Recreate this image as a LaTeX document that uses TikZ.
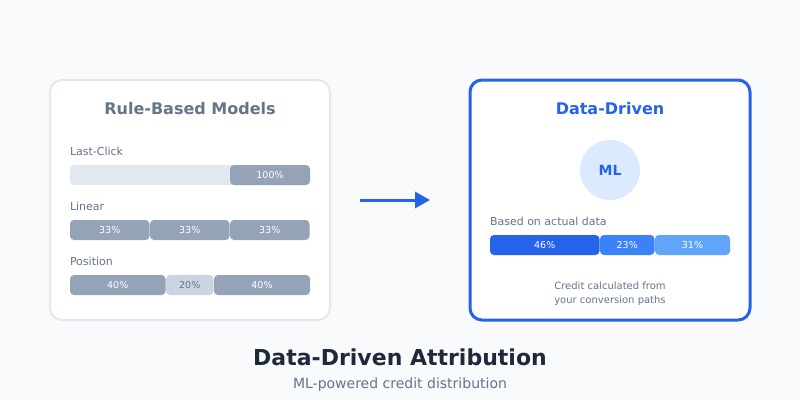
\documentclass[tikz,border=0pt]{standalone}
\usepackage{fontspec}
\setmainfont{DejaVu Sans}
\usetikzlibrary{arrows.meta,positioning}
\definecolor{pagebg}{HTML}{F8FAFC}
\definecolor{cardline}{HTML}{E2E8F0}
\definecolor{slate}{HTML}{64748B}
\definecolor{segdark}{HTML}{94A3B8}
\definecolor{seglight}{HTML}{CBD5E1}
\definecolor{track}{HTML}{E2E8F0}
\definecolor{blueA}{HTML}{2563EB}
\definecolor{blueB}{HTML}{3B82F6}
\definecolor{blueC}{HTML}{60A5FA}
\definecolor{bluebg}{HTML}{DBEAFE}
\definecolor{ink}{HTML}{1E293B}

\begin{document}
\begin{tikzpicture}[x=1pt,y=-1pt,
  every node/.style={inner sep=0pt,outer sep=0pt},
  card/.style={rounded corners=12pt,fill=white,minimum width=280pt,minimum height=240pt,anchor=north west},
  ttl/.style={font=\fontsize{16}{19}\selectfont\bfseries},
  lbl/.style={anchor=west,text=slate,font=\fontsize{11}{13}\selectfont},
  seg/.style={rounded corners=4pt,minimum height=20pt,anchor=west,text=white,font=\fontsize{9.5}{11}\selectfont}]
 \fill[pagebg] (0,0) rectangle (800,400);
 \useasboundingbox (0,0) rectangle (800,400);
 % left card
 \node[card,draw=cardline,line width=2pt] (rule) at (50,80) {};
 \node[ttl,text=slate] (ruleT) at (190,109) {Rule-Based Models};
 \node[lbl] (lcL) at (70,151) {Last-Click};
 \node[seg,fill=track,minimum width=240pt] (lcB) at (70,175) {};
 \node[seg,fill=segdark,minimum width=80pt] (lc1) at (230,175) {100\%};
 \node[lbl] (lnL) at (70,206) {Linear};
 \foreach \i/\x in {1/70,2/150,3/230}
   \node[seg,fill=segdark,minimum width=79.5pt] (ln\i) at (\x,230) {33\%};
 \node[lbl] (psL) at (70,261) {Position};
 \foreach \i/\x/\w/\c/\t in {1/70/95.5/segdark/white,2/166/47.5/seglight/slate,3/214/96/segdark/white}
   \node[seg,fill=\c,text=\t,minimum width=\w pt] (ps\i) at (\x,285) {\ifnum\i=2 20\else 40\fi\%};
 % arrow
 \coordinate (arrS) at (360,200);
 \coordinate (arrE) at (430,200);
 \draw[blueA,line width=3pt,-{Triangle[length=15pt,width=16pt]}] (arrS) -- (arrE);
 % right card
 \node[card,draw=blueA,line width=3pt] (dd) at (470,80) {};
 \node[ttl,text=blueA] (ddT) at (610,109) {Data-Driven};
 \node[circle,fill=bluebg,minimum size=60pt] (ml) at (610,170) {};
 \node[text=blueA,font=\fontsize{14}{16}\selectfont\bfseries] (mlT) at (ml) {ML};
 \node[lbl] (baseL) at (490,221) {Based on actual data};
 \foreach \i/\x/\w/\c/\t in {1/490/109.5/blueA/46,2/600/54.5/blueB/23,3/655/75/blueC/31}
   \node[seg,fill=\c,minimum width=\w pt] (dd\i) at (\x,245) {\t\%};
 \node[text=slate,align=center,font=\fontsize{10}{14}\selectfont] (note) at (610,294) {Credit calculated from\\your conversion paths};
 % caption
 \node[text=ink,font=\fontsize{22}{26}\selectfont\bfseries] (cap) at (400,357) {Data-Driven Attribution};
 \node[text=slate,font=\fontsize{14}{17}\selectfont] (sub) at (400,385) {ML-powered credit distribution};
\end{tikzpicture}
\end{document}
